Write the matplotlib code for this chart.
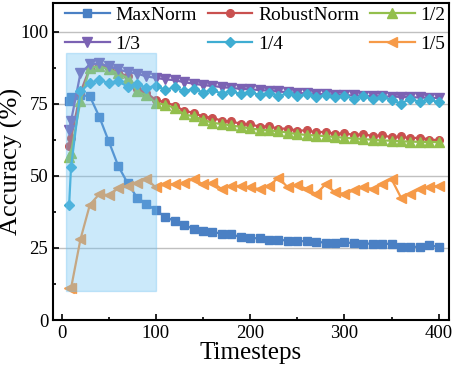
import matplotlib.pyplot as plt
import matplotlib.patches as patches
from matplotlib.ticker import MultipleLocator

plt.rcParams['font.family'] = 'Liberation Serif'
plt.rcParams['mathtext.fontset'] = 'stix'

steps = [8, 10, 20, 30, 40, 50, 60, 70, 80, 90,
         100, 110, 120, 130, 140, 150, 160, 170, 180, 190,
         200, 210, 220, 230, 240, 250, 260, 270, 280, 290,
         300, 310, 320, 330, 340, 350, 360, 370, 380, 390, 400]

maxnorm = [76, 77.5, 78, 77.6, 70.5, 62, 53.5, 47.5, 42.5, 40.3,
           38, 35.8, 34.3, 33, 31.6, 31, 30.5, 30, 29.7, 28.8,
           28.5, 28.3, 27.9, 27.9, 27.5, 27.3, 27.4, 27.2, 26.8, 26.8,
           26.9, 26.7, 26.5, 26.5, 26.5, 26.4, 25.5, 25.5, 25.3, 25.9, 25.4]
robust = [60.3, 63, 79, 87.5, 88.3, 87.5, 86, 84.5, 80.3, 78.8,
          76.3, 75.6, 74.4, 72.6, 71.9, 70.6, 70.2, 69.1, 68.9, 68.1,
          67.9, 67.1, 67.2, 66.4, 66.4, 65.7, 65.8, 65.1, 65.3, 64.6,
          64.8, 64.2, 64.5, 63.8, 64.1, 63.4, 63.7, 63.0, 63.3, 62.6, 62.4]
half = [56.6, 58, 76, 87.5, 88, 87, 85.6, 84, 79.3, 78,
        75.3, 74.7, 73.6, 71.3, 70.7, 69.5, 68.4, 68, 67.5, 67,
        66.5, 66, 65.8, 65.5, 65, 64.5, 64.2, 64, 63.8, 63.5,
        63.2, 63, 62.8, 62.5, 62.3, 62.2, 62, 61.9, 61.8, 61.8, 61.7]
third = [66, 69, 85.6, 88.7, 89, 88, 87, 86, 85.5, 84.5,
         84, 83.5, 83.2, 82.5, 82, 81.5, 81.2, 80.8, 80.5, 80.2,
         80, 79.8, 79.5, 79.3, 79, 78.8, 78.6, 78.5, 78.3, 78.2,
         78, 77.9, 77.8, 77.7, 77.6, 77.5, 77.4, 77.3, 77.2, 77.1, 77]
quarter = [40, 53, 79.3, 82.2, 83.3, 82.2, 82.8, 81, 82, 80.5,
           81.3, 79.8, 80.8, 79.3, 80.3, 78.9, 79.8, 78.5, 79.5, 78.3,
           79.2, 78, 78.9, 77.8, 78.6, 77.6, 78.3, 77.4, 78, 77.2,
           77.8, 76.8, 77.6, 76.6, 77.4, 76.4, 75, 76.8, 75.6, 76.6, 75.5]
fifth = [11, 11, 28, 40, 43.7, 43.3, 45.7, 46.5, 47.5, 48.9,
         46, 47.1, 47.1, 47.7, 48.9, 47.1, 47.7, 45.4, 46.5, 46.5,
         46, 45.4, 46.5, 49.4, 46, 46.8, 45.5, 43.7, 47.1, 44.3,
         43.7, 45, 46, 45.5, 47.1, 48.9, 42.5, 43.7, 45.4, 46, 46.5]

fig = plt.figure(figsize=(4.54, 3.67), dpi=100)
ax = fig.add_axes([0.117, 0.128, 0.872, 0.864])

for y in [25, 50, 75, 100]:
    ax.axhline(y, color='#c0c0c0', lw=1, zorder=0)

lw = 1.6
ms = 5.5
l1, = ax.plot(steps, maxnorm, '-s', color='#4a80c4', lw=lw, ms=ms, label='MaxNorm')
l2, = ax.plot(steps, robust, '-o', color='#c9504f', lw=lw, ms=ms, label='RobustNorm')
l3, = ax.plot(steps, half, '-^', color='#93bf4c', lw=lw, ms=ms + 1, label='1/2')
l4, = ax.plot(steps, third, '-v', color='#7b62b3', lw=lw, ms=ms + 1, label='1/3')
l5, = ax.plot(steps, quarter, '-D', color='#3fadd2', lw=lw, ms=ms - 0.5, label='1/4')
l6, = ax.plot(steps, fifth, '-<', color='#f69a48', lw=lw, ms=ms + 1, label='1/5')

rect = patches.Rectangle((5, 10), 95, 82.5, facecolor='#6cc0f2', edgecolor='#6cc0f2',
                         alpha=0.35, lw=1, zorder=5)
ax.add_patch(rect)

ax.set_xlim(-9, 411)
ax.set_ylim(0, 110)
ax.xaxis.set_major_locator(MultipleLocator(100))
ax.xaxis.set_minor_locator(MultipleLocator(50))
ax.yaxis.set_major_locator(MultipleLocator(25))
ax.yaxis.set_minor_locator(MultipleLocator(12.5))
ax.tick_params(which='both', direction='in', labelsize=13.5, width=1.2)
ax.tick_params(which='major', length=4)
ax.tick_params(which='minor', length=2.5)
for s in ax.spines.values():
    s.set_linewidth(1.5)

ax.set_xlabel('Timesteps', fontsize=18, labelpad=0)
ax.set_ylabel('Accuracy (%)', fontsize=19)
ax.yaxis.set_label_coords(-0.075, 0.5)

ax.legend(handles=[l1, l4, l2, l5, l3, l6], ncol=3, loc='upper left',
          bbox_to_anchor=(0.0, 1.025), frameon=False, fontsize=14,
          handlelength=2.3, columnspacing=0.55, handletextpad=0.3,
          labelspacing=0.55, borderaxespad=0.3, borderpad=0.3)

plt.savefig('out.png', dpi=100)
